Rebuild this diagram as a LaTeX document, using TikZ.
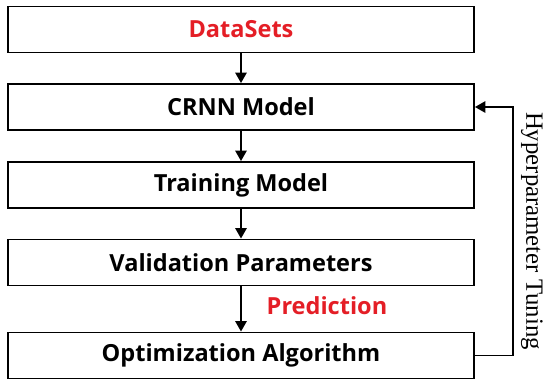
\documentclass[tikz,border=0pt]{standalone}
\usepackage{fontspec}
\setmainfont{Liberation Serif}
\newfontfamily\stagefont{Open Sans}
\usepackage{xcolor}
\usetikzlibrary{arrows.meta}
\definecolor{setred}{RGB}{228,30,38}

\begin{document}
\begin{tikzpicture}[x=0.02cm,y=-0.02cm,
  every node/.style={font=\stagefont\bfseries\fontsize{13.4}{15}\selectfont},
  stagebox/.style={draw,line width=1.1pt,minimum width=9.32cm,minimum height=0.92cm,inner sep=0pt},
  flow/.style={-{Triangle[length=6pt,width=6.5pt]},line width=1.1pt}]
\useasboundingbox (0,0) rectangle (550,386);
% stages
\node[stagebox] (data) at (241,29.5) {\textcolor{setred}{DataSets}};
\node[stagebox] (crnn) at (241,107) {CRNN Model};
\node[stagebox] (train) at (241,185) {Training Model};
\node[stagebox] (valid) at (241,262.5) {Validation Parameters};
\node[stagebox] (optim) at (241,355.5) {Optimization Algorithm};
% flow down
\draw[flow] (data) -- (crnn);
\draw[flow] (crnn) -- (train);
\draw[flow] (train) -- (valid);
\draw[flow] (valid) -- (optim);
\node[text=setred] (pred) at (327,306) {Prediction};
% feedback loop
\coordinate (loop) at (513,355.5);
\draw[flow] (optim.east) -- (loop) |- (crnn.east);
\node[rotate=-90,font=\rmfamily\fontsize{14.1}{16}\selectfont] (tune) at (532,231) {Hyperparameter Tuning};
\end{tikzpicture}
\end{document}
